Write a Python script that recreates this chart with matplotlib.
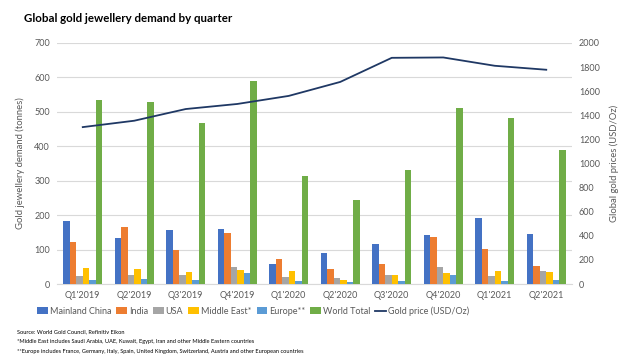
import matplotlib
matplotlib.use("Agg")
import matplotlib.pyplot as plt
import numpy as np
from matplotlib.lines import Line2D
from matplotlib.patches import Patch

quarters = ["Q1'2019", "Q2'2019", "Q3'2019", "Q4'2019", "Q1'2020",
            "Q2'2020", "Q3'2020", "Q4'2020", "Q1'2021", "Q2'2021"]
china = [182, 135, 157, 160, 59, 90, 117, 143, 193, 146]
india = [123, 167, 100, 149, 73, 43, 59, 137, 102, 53]
usa = [22, 27, 27, 48, 21, 17, 27, 48, 24, 37]
middle_east = [47, 44, 36, 40, 39, 12, 26, 32, 39, 35]
europe = [12, 14, 12, 32, 9, 6, 9, 26, 9, 12]
world_total = [534, 530, 469, 590, 313, 243, 332, 510, 482, 390]
gold_price = [1302, 1355, 1452, 1494, 1561, 1677, 1877, 1880, 1811, 1778]

series_names = ["Mainland China", "India", "USA", "Middle East*", "Europe**", "World Total"]
series = [china, india, usa, middle_east, europe, world_total]
colors = ["#4472C4", "#ED7D31", "#A5A5A5", "#FFC000", "#5B9BD5", "#70AD47"]
line_color = "#1F3864"
tick_color = "#595959"

plt.rcParams['font.family'] = ['Lato', 'DejaVu Sans']

fig = plt.figure(figsize=(6.4, 3.6), dpi=100)
ax = fig.add_axes([57/640, 1-284/360, 515/640, 241/360])
ax2 = ax.twinx()

x = np.arange(len(quarters))
bw = 0.125
for i, (name, vals, c) in enumerate(zip(series_names, series, colors)):
    ax.bar(x + (i - 2.5) * bw, vals, width=bw, color=c, zorder=3)

ax2.plot(x, gold_price, color=line_color, lw=1.3, zorder=4)

ax.set_xlim(-0.5, len(quarters) - 0.5)
ax.set_ylim(0, 700)
ax.set_yticks(range(0, 701, 100))
ax2.set_ylim(0, 2000)
ax2.set_yticks(range(0, 2001, 200))
ax.set_xticks(x)
ax.set_xticklabels(quarters)

ax.grid(axis='y', color='#D9D9D9', lw=0.8, zorder=0)
ax.set_axisbelow(True)
for a in (ax, ax2):
    for s in a.spines.values():
        s.set_visible(False)
ax.spines['bottom'].set_visible(True)
ax.spines['bottom'].set_color('#D9D9D9')
ax.tick_params(axis='both', length=0, labelsize=6.5, colors=tick_color, pad=5)
ax2.tick_params(axis='y', length=0, labelsize=6.5, colors=tick_color, pad=5)

ax.set_ylabel("Gold jewellery demand (tonnes)", fontsize=6.8, color=tick_color, labelpad=7)
ax2.set_ylabel("Global gold prices (USD/Oz)", fontsize=6.8, color=tick_color, labelpad=7)

fig.text(24/640, 1-18/360, "Global gold jewellery demand by quarter",
         fontsize=8.3, fontweight='bold', color='#000000', va='center', ha='left')

handles = [Patch(facecolor=c, label=n) for n, c in zip(series_names, colors)]
handles.append(Line2D([0], [0], color=line_color, lw=1.3, label="Gold price (USD/Oz)"))
fig.legend(handles=handles, loc='center', bbox_to_anchor=(253/640, 1-311/360), ncol=7,
           frameon=False, fontsize=6.5, handlelength=1.2, handleheight=0.7,
           handletextpad=0.15, columnspacing=0.6, labelcolor=tick_color,
           borderpad=0, borderaxespad=0)

notes = ["Source: World Gold Council, Refinitiv Eikon",
         "*Middle East includes Saudi Arabia, UAE, Kuwait, Egypt, Iran and other Middle Eastern countries",
         "**Europe includes France, Germany, Italy, Spain, United Kingdom, Switzerland, Austria and other European countries"]
for i, t in enumerate(notes):
    fig.text(17/640, 1-(332 + i*9.5)/360, t, fontsize=4.1, color='#000000', va='center', ha='left')

fig.savefig("out.png", dpi=100)
